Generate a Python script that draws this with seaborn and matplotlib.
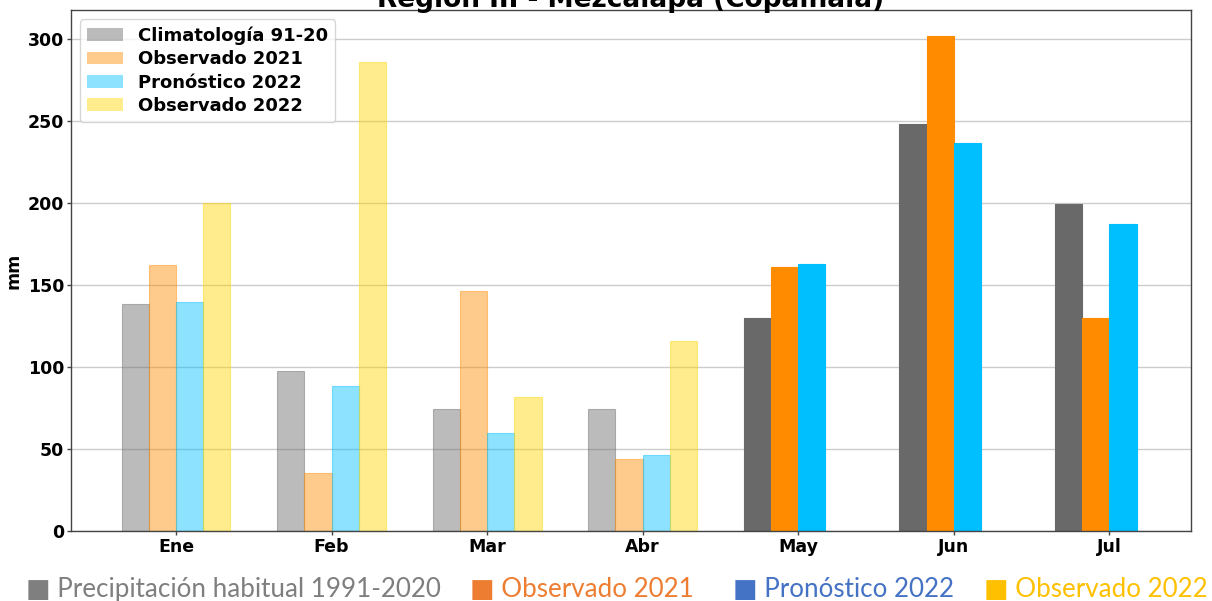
import numpy as np
import pandas as pd
import matplotlib
matplotlib.use("Agg")
import matplotlib.pyplot as plt
import seaborn as sns
from matplotlib.patches import Patch

months = ["Ene", "Feb", "Mar", "Abr", "May", "Jun", "Jul"]
clim = [138.6, 97.8, 74.4, 74.4, 130.0, 248.6, 199.6]
obs21 = [162.4, 35.2, 146.5, 43.9, 161.2, 302.2, 130.0]
pron22 = [139.6, 88.2, 59.6, 46.3, 163.2, 237.0, 187.4]
obs22 = [200.4, 286.0, 81.7, 116.0, np.nan, np.nan, np.nan]

series_names = ["Climatología 91-20", "Observado 2021", "Pronóstico 2022", "Observado 2022"]
colors = ["#696969", "#FF8C00", "#00BFFF", "#FFD700"]
footer = ["Precipitación habitual 1991-2020", "Observado 2021", "Pronóstico 2022", "Observado 2022"]
footer_colors = ["#7F7F7F", "#ED7D31", "#4472C4", "#FFC000"]

df = pd.DataFrame({"Mes": months * 4,
                   "Serie": sum([[n] * len(months) for n in series_names], []),
                   "mm": clim + obs21 + pron22 + obs22})

sns.set_style("white")
plt.rcParams["font.family"] = ["DejaVu Sans"]
plt.rcParams["text.color"] = "black"
plt.rcParams["axes.labelcolor"] = "black"
plt.rcParams["xtick.color"] = "black"
plt.rcParams["ytick.color"] = "black"

fig = plt.figure(figsize=(12.12, 6.01), dpi=100)
ax = fig.add_axes([71 / 1212, 1 - 531 / 601, (1191 - 71) / 1212, (531 - 10) / 601])

sns.barplot(data=df, x="Mes", y="mm", hue="Serie", order=months, hue_order=series_names,
            palette=colors, width=0.7, gap=0, saturation=1, legend=False, ax=ax, errorbar=None)

faded = 0.45
for p in ax.patches:
    h = p.get_height()
    if h is None or np.isnan(h):
        continue
    cx = p.get_x() + p.get_width() / 2
    fc = p.get_facecolor()
    p.set_edgecolor(fc)
    p.set_linewidth(0.8)
    p.set_alpha(faded if cx < 3.5 else 1.0)

ax.set_xlim(-0.675, 6.525)
ax.set_ylim(0, 318)
ax.set_yticks([0, 50, 100, 150, 200, 250, 300])
ax.yaxis.grid(True, color="#cccccc", linewidth=1)
ax.set_axisbelow(True)
for s in ax.spines.values():
    s.set_visible(True)
    s.set_color("#444444")
    s.set_linewidth(1)
ax.tick_params(axis="both", which="major", length=3, width=1, color="#444444",
               labelcolor="black", labelsize=12.5, direction="out", bottom=True, left=True, pad=2)
for lbl in ax.get_xticklabels() + ax.get_yticklabels():
    lbl.set_fontweight("bold")
ax.set_xlabel("")
ax.set_ylabel("mm", fontsize=12.5, fontweight="bold", labelpad=4, color="black")

handles = [Patch(facecolor=c, alpha=faded, edgecolor="none") for c in colors]
ax.legend(handles, series_names, loc="upper left",
          prop={"weight": "bold", "size": 13},
          frameon=True, borderpad=0.4, handlelength=2.0, handletextpad=0.8,
          labelspacing=0.3, bbox_to_anchor=(0.0, 1.0))

ax.set_title("Región III - Mezcalapa (Copainalá)", fontsize=19, fontweight="bold", pad=2,
             color="black")

xs = [26, 470, 733, 984]
for x, t, c in zip(xs, footer, footer_colors):
    fig.text(x / 1212, 1 - 597 / 601, "■ " + t, color=c, fontsize=18.7,
             family=["Lato", "DejaVu Sans"], va="baseline", ha="left")

fig.savefig("out.png", dpi=100)
